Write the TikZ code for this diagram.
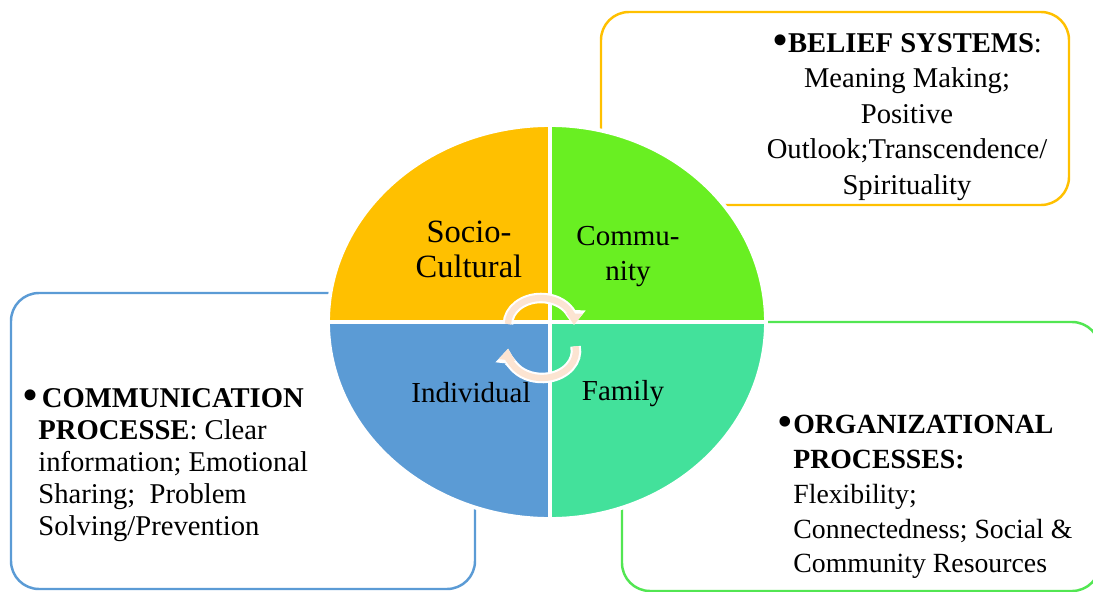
\documentclass[tikz,border=0pt]{standalone}
\usepackage{fontspec}
\setmainfont{Liberation Serif}
\usepackage{tikz}
\usetikzlibrary{arrows.meta}
\usepackage{xcolor}
\definecolor{socioc}{HTML}{FFC000}
\definecolor{commc}{HTML}{69EF22}
\definecolor{famc}{HTML}{43E19B}
\definecolor{indc}{HTML}{5B9BD5}
\definecolor{orgc}{HTML}{52E652}
\definecolor{peachc}{HTML}{FCE4D2}
\newcommand{\bigbullet}{\raisebox{-0.1em}{\scalebox{1.6}{\textbullet}}}

\begin{document}
\begin{tikzpicture}[x=0.02cm,y=-0.02cm,
% styles
boxline/.style={line width=1.4pt, rounded corners=0.56cm},
quarter/.style={draw=white, line width=2.2pt},
quadtext/.style={font=\fontsize{16.5}{19.8}\selectfont, align=center, inner sep=0pt},
boxtext/.style={font=\fontsize{16.3}{20.2}\selectfont, inner sep=0pt},
turnback/.style={draw=white, line width=6pt, -{Triangle[width=12pt, length=8.5pt]}},
turnfront/.style={draw=peachc, line width=3.6pt, -{Triangle[width=9pt, length=6.5pt]}},
]
\useasboundingbox (0,0) rectangle (1093,592);
\clip (0,0) rectangle (1093,592);

%Boxes
\draw[boxline, draw=socioc] (601,12) rectangle (1069,205);
\draw[boxline, draw=indc] (11,293) rectangle (475,589);
\draw[boxline, draw=orgc] (622,322) rectangle (1100,591);

%Quarters
\filldraw[quarter, fill=socioc] (550,322) -- (328,322) arc[start angle=180, end angle=270, x radius=222, y radius=197] -- cycle;
\filldraw[quarter, fill=commc] (550,322) -- (550,125) arc[start angle=270, end angle=360, x radius=216, y radius=197] -- cycle;
\filldraw[quarter, fill=famc] (550,322) -- (766,322) arc[start angle=0, end angle=90, x radius=216, y radius=197] -- cycle;
\filldraw[quarter, fill=indc] (550,322) -- (550,519) arc[start angle=90, end angle=180, x radius=222, y radius=197] -- cycle;

%Nodes
\node[quadtext, font=\fontsize{18.5}{19.8}\selectfont, anchor=north] (socio) at (469,221) {Socio-\\Cultural};
\node[quadtext, anchor=north] (comm) at (628,226) {Commu-\\nity};
\node[quadtext, anchor=base] (indiv) at (471,402) {Individual};
\node[quadtext, anchor=base] (family) at (623,400) {Family};

\node[boxtext, align=center, anchor=north] (belief) at (907,33)
  {\bigbullet\textbf{BELIEF SYSTEMS}:\\Meaning Making;\\Positive\\Outlook;Transcendence/\\Spirituality};
\node[boxtext, font=\fontsize{16.3}{18.2}\selectfont, align=left, anchor=north west] (commproc) at (38,388)
  {\llap{\bigbullet}\kern2pt\textbf{COMMUNICATION}\\\textbf{PROCESSE}: Clear\\information; Emotional\\Sharing;~~Problem\\Solving/Prevention};
\node[boxtext, font=\fontsize{15.8}{19.8}\selectfont, align=left, anchor=north west] (orgproc) at (793,415)
  {\llap{\bigbullet}\textbf{ORGANIZATIONAL}\\\textbf{PROCESSES:}\\Flexibility;\\Connectedness; Social \&\\Community Resources};

%Arrows
\coordinate (turnup) at (541,324);
\coordinate (turndown) at (542,351);
\draw[turnback] (turnup) ++(-33,0) arc[start angle=180, end angle=362, x radius=33, y radius=26];
\draw[turnfront] (turnup) ++(-33,0) arc[start angle=180, end angle=362, x radius=33, y radius=26];
\draw[turnback] (turndown) ++(-10:34 and 27) arc[start angle=-10, end angle=185, x radius=34, y radius=27];
\draw[turnfront] (turndown) ++(-10:34 and 27) arc[start angle=-10, end angle=185, x radius=34, y radius=27];

\end{tikzpicture}
\end{document}
